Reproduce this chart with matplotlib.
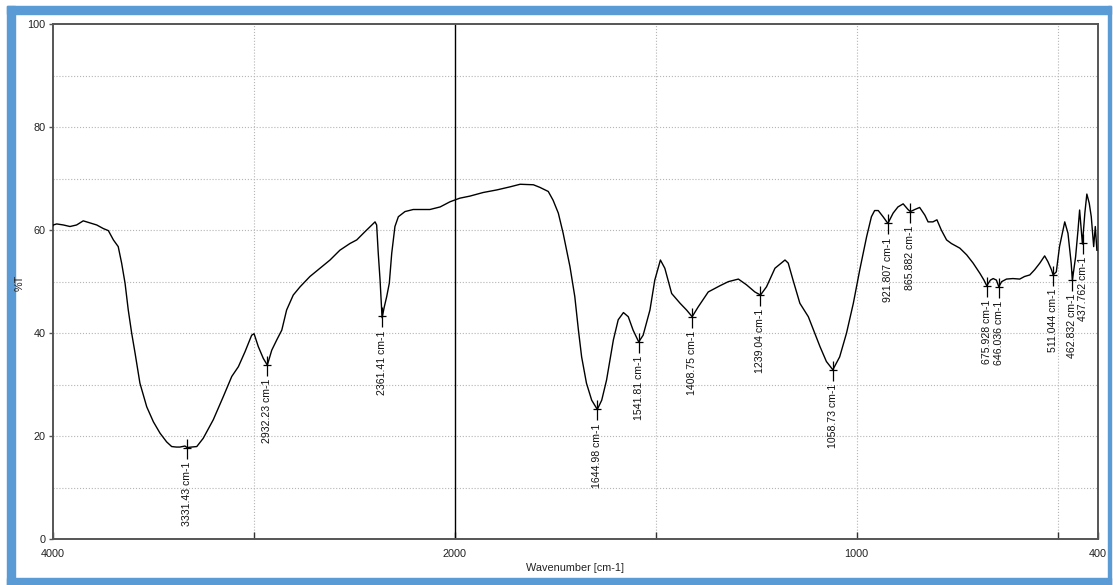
import numpy as np
import matplotlib
matplotlib.use("Agg")
import matplotlib.pyplot as plt
import matplotlib.path as mpath
from matplotlib.patches import Rectangle

plt.rcParams['font.family'] = ['Liberation Sans', 'DejaVu Sans']

# spectrum (wavenumber cm-1, %T)
wavenumber = [4000, 3997, 3980, 3947, 3914, 3881, 3848, 3814, 3781, 3748, 3723,
              3698, 3674, 3657, 3640, 3624, 3607, 3590, 3566, 3532, 3499, 3466,
              3433, 3408, 3385, 3367, 3342, 3331, 3310, 3283, 3251, 3201, 3151,
              3109, 3076, 3043, 3010, 2998, 2977, 2952, 2932, 2910, 2885, 2860,
              2836, 2803, 2769, 2720, 2670, 2620, 2571, 2521, 2487, 2446, 2396,
              2388, 2380, 2371, 2363, 2361, 2350, 2338, 2325, 2313, 2297, 2280,
              2247, 2206, 2123, 2072, 2023, 1987, 1962, 1929, 1895, 1862, 1837,
              1804, 1788, 1767, 1755, 1742, 1730, 1713, 1701, 1692, 1684, 1672,
              1659, 1645, 1634, 1622, 1605, 1593, 1580, 1568, 1556, 1542, 1531,
              1514, 1502, 1488, 1477, 1460, 1439, 1423, 1409, 1394, 1369, 1340,
              1319, 1294, 1274, 1253, 1239, 1224, 1203, 1178, 1170, 1158, 1141,
              1120, 1104, 1091, 1075, 1059, 1042, 1025, 1008, 992, 975, 963,
              955, 946, 934, 922, 909, 897, 884, 872, 866, 855, 843, 830, 822,
              810, 800, 789, 776, 764, 743, 726, 710, 693, 683, 676, 667, 660,
              652, 646, 639, 627, 611, 594, 582, 569, 557, 544, 532, 524, 515,
              511, 503, 495, 482, 474, 466, 463, 455, 449, 445, 441, 438, 432,
              427, 421, 416, 410, 406, 402]
transmittance = [60.8, 61.0, 61.2, 61.0, 60.7, 61.0, 61.8, 61.4, 61.0, 60.3, 59.9,
                 58.1, 56.8, 53.6, 49.7, 44.5, 40.0, 36.1, 30.3, 25.7, 22.8, 20.6,
                 18.9, 18.0, 17.9, 17.9, 18.1, 17.8, 17.9, 18.0, 19.6, 23.2, 27.7,
                 31.6, 33.5, 36.4, 39.6, 39.9, 37.4, 35.1, 33.8, 36.7, 38.7, 40.6,
                 44.5, 47.4, 49.0, 51.0, 52.6, 54.2, 56.1, 57.4, 58.1, 59.7, 61.6,
                 61.0, 55.5, 50.3, 44.5, 43.0, 45.1, 47.1, 49.7, 55.5, 60.7, 62.6,
                 63.6, 64.0, 64.0, 64.5, 65.5, 66.2, 66.6, 67.3, 67.8, 68.4, 68.9,
                 68.8, 68.3, 67.5, 65.8, 63.3, 59.4, 52.9, 47.1, 40.6, 35.4, 30.3,
                 27.0, 25.2, 27.0, 30.9, 38.7, 42.6, 44.0, 43.2, 40.6, 38.3, 39.6,
                 44.5, 50.3, 54.2, 52.6, 47.7, 45.8, 44.5, 43.2, 45.1, 48.0, 49.2,
                 50.0, 50.5, 49.4, 48.0, 47.4, 49.0, 52.6, 54.2, 53.6, 50.3, 45.8,
                 43.2, 40.0, 37.4, 34.5, 32.9, 35.4, 40.0, 45.8, 52.3, 58.7, 62.6,
                 63.8, 63.8, 62.6, 61.3, 63.3, 64.5, 65.1, 64.0, 63.6, 64.0, 64.4, 62.9, 61.6,
                 61.6, 62.0, 60.0, 58.1, 57.4, 56.5, 55.2, 53.6, 51.6, 50.3, 49.2, 50.3, 50.6,
                 50.3, 49.0, 50.0, 50.5, 50.6, 50.5, 51.0, 51.3, 52.3, 53.6, 55.0, 53.9, 52.3,
                 51.3, 51.9, 56.8, 61.6, 59.4, 53.6, 50.3, 54.8, 60.0, 63.9, 60.0, 57.3, 63.3,
                 67.0, 65.2, 62.6, 56.8, 60.7, 56.1]

peaks = [3331.43, 2932.23, 2361.41, 1644.98, 1541.81, 1408.75, 1239.04, 1058.73,
         921.807, 865.882, 675.928, 646.036, 511.044, 462.832, 437.762]
peak_labels = ["3331.43 cm-1", "2932.23 cm-1", "2361.41 cm-1", "1644.98 cm-1",
               "1541.81 cm-1", "1408.75 cm-1", "1239.04 cm-1", "1058.73 cm-1",
               "921.807 cm-1", "865.882 cm-1", "675.928 cm-1", "646.036 cm-1",
               "511.044 cm-1", "462.832 cm-1", "437.762 cm-1"]


# 4000-2000 is drawn at half the scale of 2000-400
def fwd(w):
    w = np.asarray(w, dtype=float)
    return np.where(w >= 2000, w, 2 * w - 2000)


def inv(u):
    u = np.asarray(u, dtype=float)
    return np.where(u >= 2000, u, (u + 2000) / 2)


fig = plt.figure(figsize=(11.13, 5.85), dpi=100)

# blue frame round the picture
blue = '#5b9bd5'
for (x0, y0, w, h) in [(7, 0, 8, 579), (7, 571, 1104, 8), (7, 0, 1104, 7), (1108, 0, 3, 579)]:
    fig.patches.append(Rectangle((x0 / 1113, y0 / 585), w / 1113, h / 585,
                                 transform=fig.transFigure, color=blue, zorder=0))

ax = fig.add_axes([52.7 / 1113, 45.7 / 585, 1045 / 1113, 515.3 / 585])
ax.set_xscale('function', functions=(fwd, inv))
ax.set_xlim(4000, 400)
ax.set_ylim(0, 100)

for y in range(10, 100, 10):
    ax.axhline(y, color='#b5b5b5', lw=0.8, ls=':', zorder=1)
for x in [3000, 1500, 1000, 500]:
    ax.axvline(x, color='#b5b5b5', lw=0.8, ls=':', zorder=1)
ax.axvline(2000, color='black', lw=1.0, zorder=2)

ax.plot(wavenumber, transmittance, color='black', lw=1.0, zorder=3)

# peak markers: vertical tick through the minimum with a small crossbar
verts = [(0, 9), (0, -11), (-4, 0), (4, 0)]
codes = [mpath.Path.MOVETO, mpath.Path.LINETO, mpath.Path.MOVETO, mpath.Path.LINETO]
pk_marker = mpath.Path(verts, codes)
pk_y = np.interp(peaks, wavenumber[::-1], transmittance[::-1])
ax.plot(peaks, pk_y, ls='none', marker=pk_marker, markersize=15.8,
        markeredgecolor='black', markeredgewidth=0.9, zorder=4)
for p, y, lab in zip(peaks, pk_y, peak_labels):
    ax.annotate(lab, (p, y), xytext=(0, -14), textcoords='offset pixels',
                rotation=90, ha='center', va='top', fontsize=7.6, color='#111111')

ax.set_xticks([4000, 3000, 2000, 1500, 1000, 500, 400])
ax.set_xticklabels(['4000', '', '2000', '', '1000', '', '400'])
ax.set_yticks([0, 20, 40, 60, 80, 100])
ax.tick_params(axis='x', direction='in', length=5, width=1, color='#333333',
               labelsize=7.8, labelcolor='#222222', pad=7)
ax.tick_params(axis='y', direction='out', length=3, width=1, color='#555555',
               labelsize=7.8, labelcolor='#222222', pad=2)
for s in ax.spines.values():
    s.set_color('#555555')
    s.set_linewidth(1.4)

ax.set_xlabel('Wavenumber [cm-1]', fontsize=7.8, color='#222222', labelpad=3)
fig.text(20 / 1113, 1 - 283 / 585, '%T', rotation=90, ha='center', va='center',
         fontsize=7.8, color='#222222')

fig.savefig('out.png', dpi=100, facecolor='white')
